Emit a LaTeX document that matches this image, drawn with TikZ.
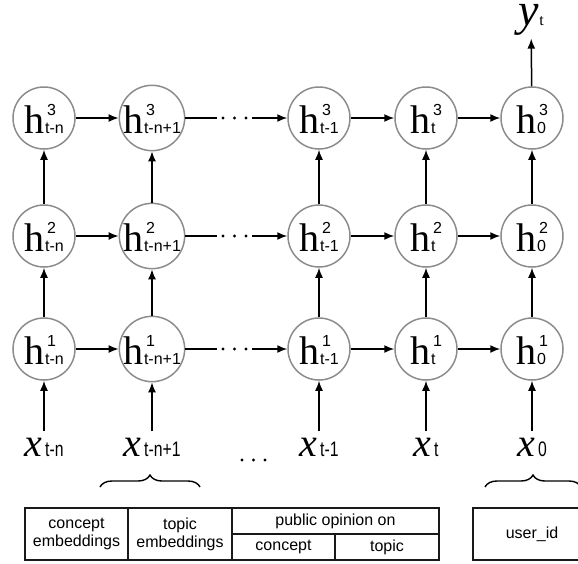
\RequirePackage{fix-cm}
\documentclass[tikz,border=0pt]{standalone}
\usepackage{fontspec}
\setmainfont{Liberation Serif}
\setsansfont{Liberation Sans}
\usepackage{tikz}
\usetikzlibrary{arrows.meta, decorations.pathreplacing}
\tikzstyle{unit}=[circle, draw=black!45, line width=1.5pt, minimum size=62pt, inner sep=0pt, text depth=0pt]
\tikzstyle{inp}=[anchor=base, inner sep=6pt]
\tikzstyle{link}=[line width=1.5pt]
\tikzstyle{con}=[line width=1.5pt, -{Latex[length=10pt,width=8pt]}]
\tikzstyle{gap}=[inner sep=0pt, minimum width=35pt, minimum height=4pt]
\tikzstyle{cell}=[draw=black!90, line width=1.3pt, inner sep=0pt, align=center,
  font=\sffamily\fontsize{16}{18}\selectfont]
\tikzstyle{brace}=[decorate, decoration={brace, amplitude=12pt}, line width=1.4pt]
\newcommand{\hlab}[2]{{\fontsize{40}{40}\selectfont h}\hspace{1pt}{\sffamily\fontsize{16}{18}\selectfont
  \begin{tabular}[b]{@{}l@{}}\hspace{2pt}#1\\#2\end{tabular}}}
\newcommand{\xlab}[1]{{\fontsize{40}{40}\selectfont\itshape x}\hspace{3pt}{\scalebox{1.05}[1.4]{\sffamily\fontsize{15}{15}\selectfont #1}}}

\begin{document}
\begin{tikzpicture}[x=1pt, y=-1pt]
    \useasboundingbox (0,0) rectangle (578,563);
    % hidden layer 3
    \node[unit] (A1) at (44,118) {\hlab{3}{t-n}};
    \node[unit] (A2) at (152,118) {\hlab{3}{t-n+1}};
    \node[unit] (A3) at (319,118) {\hlab{3}{t-1}};
    \node[unit] (A4) at (426,118) {\hlab{3}{t}};
    \node[unit] (A5) at (532,118) {\hlab{3}{0}};
    % hidden layer 2
    \node[unit] (B1) at (44,236) {\hlab{2}{t-n}};
    \node[unit] (B2) at (152,236) {\hlab{2}{t-n+1}};
    \node[unit] (B3) at (319,236) {\hlab{2}{t-1}};
    \node[unit] (B4) at (426,236) {\hlab{2}{t}};
    \node[unit] (B5) at (532,236) {\hlab{2}{0}};
    % hidden layer 1
    \node[unit] (C1) at (44,349) {\hlab{1}{t-n}};
    \node[unit] (C2) at (152,349) {\hlab{1}{t-n+1}};
    \node[unit] (C3) at (319,349) {\hlab{1}{t-1}};
    \node[unit] (C4) at (426,349) {\hlab{1}{t}};
    \node[unit] (C5) at (532,349) {\hlab{1}{0}};
    % inputs and output
    \node[inp] (X1) at (44,456) {\xlab{t-n}};
    \node[inp] (X2) at (152,456) {\xlab{t-n+1}};
    \node[inp] (X3) at (319,456) {\xlab{t-1}};
    \node[inp] (X4) at (426,456) {\xlab{t}};
    \node[inp] (X5) at (532,456) {\xlab{0}};
    \node[anchor=base, inner sep=3.5pt] (Y) at (531,25)
      {{\fontsize{46}{46}\selectfont\itshape y}\hspace{1pt}{\fontsize{16}{16}\selectfont t}};
    % gaps in the chains
    \node[gap] (D1) at (234.5,118) {};
    \node[gap] (D2) at (234.5,236) {};
    \node[gap] (D3) at (234.5,349) {};
    \node[gap] (D4) at (253.5,460) {};
    \foreach \d in {D1, D2, D3, D4}
      \foreach \i in {-11.5,0,11.5}
        \fill ([xshift=\i pt]\d.center) circle (1.6pt);

    \foreach \from/\to in {A1/A2, B1/B2, C1/C2, D1/A3, D2/B3, D3/C3,
          A3/A4, A4/A5, B3/B4, B4/B5, C3/C4, C4/C5,
          C1/B1, C2/B2, C3/B3, C4/B4, C5/B5, B1/A1, B2/A2, B3/A3, B4/A4, B5/A5,
          X1/C1, X2/C2, X3/C3, X4/C4, X5/C5, A5/Y}
      \draw[con] (\from) -- (\to);
    \foreach \from/\to in {A2/D1, B2/D2, C2/D3}
      \draw[link] (\from) -- (\to);

    % input features
    \draw[brace] (100,487) -- (200,487);
    \draw[brace] (485,487) -- (581,487);
    \node[cell, minimum width=103pt, minimum height=52pt] (T1) at (76.5,534) {concept\\embeddings};
    \node[cell, minimum width=104pt, minimum height=52pt] (T2) at (180,534) {topic\\embeddings};
    \node[cell, minimum width=207pt, minimum height=26pt] (T3) at (335.5,521) {public opinion on};
    \node[cell, minimum width=103pt, minimum height=26pt] (T4) at (283.5,547) {concept};
    \node[cell, minimum width=104pt, minimum height=26pt] (T5) at (387,547) {topic};
    \node[cell, minimum width=118pt, minimum height=52pt] (U) at (532,534) {user\_id};
\end{tikzpicture}
\end{document}
